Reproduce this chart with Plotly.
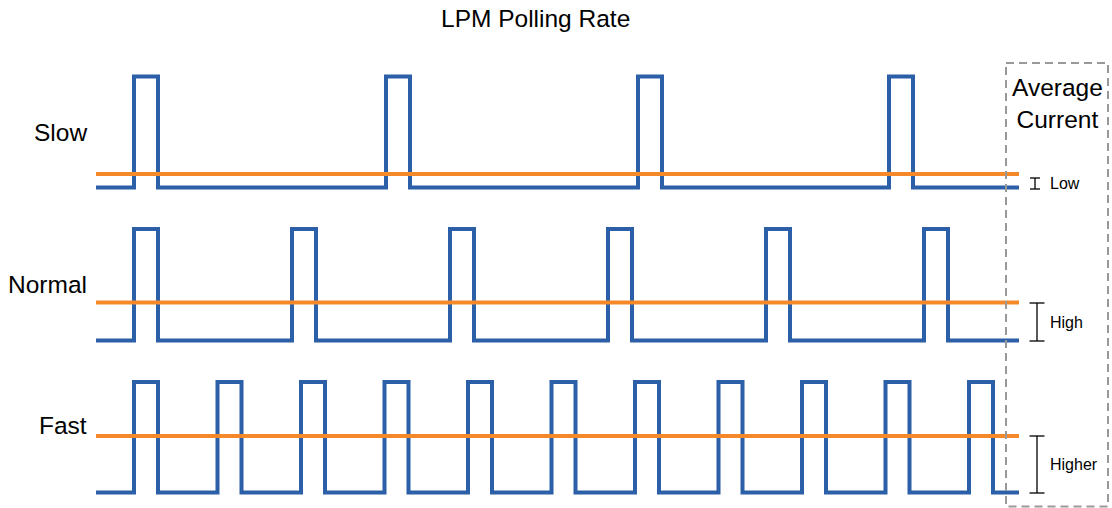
import plotly.graph_objects as go

# ---- data ----
rate_labels = ["Slow", "Normal", "Fast"]
pulse_starts_slow = [134, 386, 638, 889]
pulse_starts_normal = [134, 292, 450, 608, 766, 924]
pulse_starts_fast = [134, 217.5, 301, 384.5, 468, 551.5, 635, 718.5, 802, 885.5, 969]
pulse_width = 24
trace_start = 96
trace_end = 1019
baseline_levels = [187.5, 340.5, 492.5]
peak_levels = [76.5, 229, 382]
average_levels = [174, 302.5, 436]
current_labels = ["Low", "High", "Higher"]
title_text = "LPM Polling Rate"
box_title = "Average<br>Current"

BLUE = "#2B5FA8"
ORANGE = "#F5892A"
FONT = "Liberation Sans, Arial, sans-serif"

fig = go.Figure()

all_pulses = [pulse_starts_slow, pulse_starts_normal, pulse_starts_fast]
for i, starts in enumerate(all_pulses):
    base = baseline_levels[i]
    top = peak_levels[i]
    xs = [trace_start]
    ys = [base]
    for s in starts:
        xs += [s, s, s + pulse_width, s + pulse_width]
        ys += [base, top, top, base]
    xs.append(trace_end)
    ys.append(base)
    fig.add_trace(go.Scatter(x=xs, y=ys, mode="lines",
                             line=dict(color=BLUE, width=4),
                             hoverinfo="skip", showlegend=False))
    fig.add_trace(go.Scatter(x=[trace_start, trace_end], y=[average_levels[i]] * 2,
                             mode="lines", line=dict(color=ORANGE, width=4),
                             hoverinfo="skip", showlegend=False))

# difference markers (I-beams)
beam_x = [1035, 1037, 1037]
cap_half = [5, 7.5, 7.5]
beam_top = [178, 303, 436]
beam_bot = [189, 341, 493]
for i in range(3):
    bx, h = beam_x[i], cap_half[i]
    fig.add_trace(go.Scatter(
        x=[bx - h, bx + h, None, bx, bx, None, bx - h, bx + h],
        y=[beam_top[i], beam_top[i], None, beam_top[i], beam_bot[i], None, beam_bot[i], beam_bot[i]],
        mode="lines", line=dict(color="black", width=1.3),
        hoverinfo="skip", showlegend=False))
    fig.add_annotation(x=1048, y=(beam_top[i] + beam_bot[i]) / 2, text=current_labels[i],
                       showarrow=False, xanchor="left", yanchor="middle",
                       font=dict(family=FONT, size=16, color="black"))

# row labels
label_y = [132, 284, 425.5]
for i, name in enumerate(rate_labels):
    fig.add_annotation(x=89, y=label_y[i], text=name, showarrow=False,
                       xanchor="right", yanchor="middle",
                       font=dict(family=FONT, size=24.5, color="black"))

# title
fig.add_annotation(x=535.5, y=18.5, text=title_text, showarrow=False,
                   xanchor="center", yanchor="middle",
                   font=dict(family=FONT, size=24.5, color="black"))

# dashed box
fig.add_shape(type="rect", x0=1006, x1=1108, y0=63, y1=506.5, layer="above",
              line=dict(color="#999999", width=2, dash="8px,5px"))
fig.add_annotation(x=1057, y=103, text=box_title, showarrow=False,
                   xanchor="center", yanchor="middle",
                   font=dict(family=FONT, size=24.5, color="black"))

fig.update_layout(
    width=1112, height=508,
    margin=dict(l=0, r=0, t=0, b=0),
    paper_bgcolor="white", plot_bgcolor="white",
    xaxis=dict(range=[0, 1112], visible=False, fixedrange=True),
    yaxis=dict(range=[508, 0], visible=False, fixedrange=True),
)

fig.write_html("out.html", config={"displayModeBar": False},
               post_script="document.body.style.margin='0';document.body.style.overflow='hidden';")
